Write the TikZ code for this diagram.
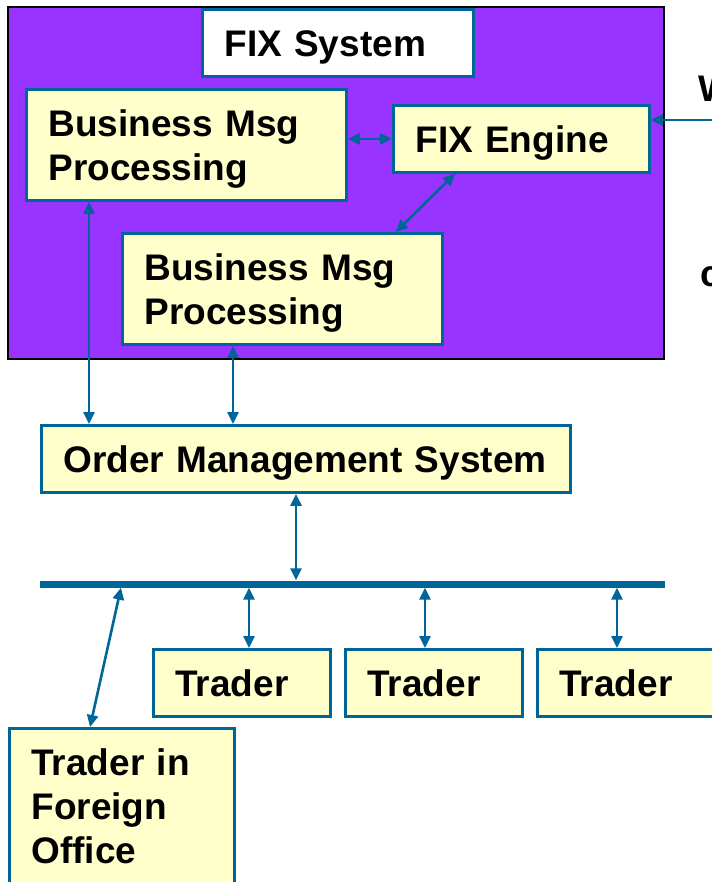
\documentclass[tikz,border=0pt]{standalone}
\usepackage{fontspec}
\setmainfont{Liberation Sans}
\usetikzlibrary{arrows.meta}
\definecolor{fixpurple}{HTML}{9933FF}
\definecolor{boxfill}{HTML}{FFFFCC}
\definecolor{linkblue}{HTML}{006699}
% struts fixing the first baseline and the space under the last line of a box
\newcommand\tophalf{\rule{0pt}{47pt}}
\newcommand\bottomhalf{\rule[-20pt]{0pt}{20pt}}
\begin{document}
\begin{tikzpicture}[x=1pt,y=-1pt,
  box/.style={draw=linkblue, line width=2.8pt, fill=boxfill, anchor=north west,
    inner xsep=22pt, inner ysep=0pt, align=left,
    font=\fontsize{37}{44}\selectfont\bfseries},
  link/.style={draw=linkblue, line width=2.6pt,
    {Triangle[length=12pt,width=11pt]}-{Triangle[length=12pt,width=11pt]}},
  linkin/.style={draw=linkblue, line width=2.6pt, -{Triangle[length=12pt,width=11pt]}},
  edgetext/.style={anchor=base west, inner sep=0pt, font=\fontsize{37}{44}\selectfont\bfseries}]
\useasboundingbox (0,0) rectangle (711,882);
\fill[white] (0,0) rectangle (711,882);

% FIX system frame
\draw[line width=2.8pt, fill=fixpurple] (8,7) rectangle (664,359);

\node[box, fill=white, text width=227pt] (fixsys) at (201,8) {\tophalf FIX System\bottomhalf};
\node[box, text width=276pt] (bmp1) at (25,88) {\tophalf Business Msg\\Processing\bottomhalf};
\node[box, text width=212pt] (fixe) at (392,104) {\tophalf FIX Engine\bottomhalf};
\node[box, text width=276pt] (bmp2) at (121,232) {\tophalf Business Msg\\Processing\bottomhalf};

% order management and trading floor
\node[box, text width=485pt] (oms) at (40,424) {\tophalf Order Management System\bottomhalf};
\node[fill=linkblue, inner sep=0pt, minimum width=625pt, minimum height=7pt, anchor=west] (bus) at (40,584) {};
\node[box, text width=133pt] (trader1) at (152,648) {\tophalf Trader\bottomhalf};
\node[box, text width=133pt] (trader2) at (344,648) {\tophalf Trader\bottomhalf};
\node[box, text width=133pt] (trader3) at (536,648) {\tophalf Trader\bottomhalf};
\node[box, text width=181pt] (tfo) at (8,727) {\tophalf Trader in\\Foreign\\Office\rule[-40pt]{0pt}{40pt}};

% text running in from the right
\node[edgetext] (wtxt) at (698,102) {W};
\node[edgetext] (ctxt) at (700,287) {c};

% connectors
\draw[link] (fixe.west) -- (fixe.west -| bmp1.east);
\draw[link] ([xshift=63pt]fixe.south west) -- ([xshift=-48pt]bmp2.north east);
\draw[link] ([xshift=64pt]bmp1.south west) coordinate (a1) -- (a1 |- oms.north);
\draw[link] ([xshift=112pt]bmp2.south west) coordinate (a2) -- (a2 |- oms.north);
\draw[link] ([xshift=256pt]oms.south west) coordinate (a3) -- (a3 |- bus.north);
\draw[link] ([xshift=97pt]trader1.north west) coordinate (a4) -- (a4 |- bus.south);
\draw[link] ([xshift=81pt]trader2.north west) coordinate (a5) -- (a5 |- bus.south);
\draw[link] ([xshift=81pt]trader3.north west) coordinate (a6) -- (a6 |- bus.south);
\draw[link] ([xshift=81pt]bus.south west) -- ([xshift=82pt]tfo.north west);
\coordinate (ext) at (730,120);
\draw[linkin] (ext) -- (ext -| fixe.east);
\end{tikzpicture}
\end{document}
